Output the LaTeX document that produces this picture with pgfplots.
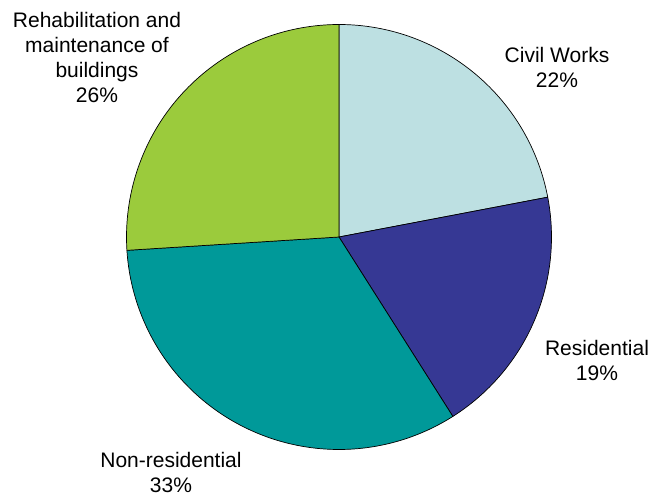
\documentclass[border=0pt]{standalone}
\usepackage{pgfplots}
\pgfplotsset{compat=1.18}
\usepgfplotslibrary{polar}
\usepackage{fontspec}
\setmainfont{Liberation Sans}
\definecolor{civil}{RGB}{189,224,226}
\definecolor{resid}{RGB}{54,56,148}
\definecolor{nonres}{RGB}{0,153,153}
\definecolor{rehab}{RGB}{155,203,60}
\begin{document}
\begin{tikzpicture}[x=1pt,y=1pt]
\useasboundingbox (0,0) rectangle (653,495);
\begin{polaraxis}[
  at={(339pt,258pt)}, anchor=center,
  scale only axis, width=425pt, height=425pt,
  hide axis, xmin=0, xmax=360, ymin=0, ymax=1,
  clip=false,
]
% shares (%): Civil Works 22, Residential 19, Non-residential 33, Rehabilitation 26
\addplot[fill=civil, draw=black, line width=0.7pt, domain={90-3.6*22}:{90}, samples=120] {1} -- (axis cs:0,0) -- cycle;
\addplot[fill=resid, draw=black, line width=0.7pt, domain={90-3.6*(22+19)}:{90-3.6*22}, samples=120] {1} -- (axis cs:0,0) -- cycle;
\addplot[fill=nonres, draw=black, line width=0.7pt, domain={90-3.6*(22+19+33)}:{90-3.6*(22+19)}, samples=160] {1} -- (axis cs:0,0) -- cycle;
\addplot[fill=rehab, draw=black, line width=0.7pt, domain={90-3.6*(22+19+33+26)}:{90-3.6*(22+19+33)}, samples=140] {1} -- (axis cs:0,0) -- cycle;
\end{polaraxis}
\begin{scope}[every node/.style={align=center, font=\fontsize{21}{25}\selectfont, inner sep=0pt}]
\node at (557,428) {Civil Works\\22\%};
\node at (597,135) {Residential\\19\%};
\node at (171,23) {Non-residential\\33\%};
\node at (97,437) {Rehabilitation and\\maintenance of\\buildings\\26\%};
\end{scope}
\end{tikzpicture}
\end{document}
